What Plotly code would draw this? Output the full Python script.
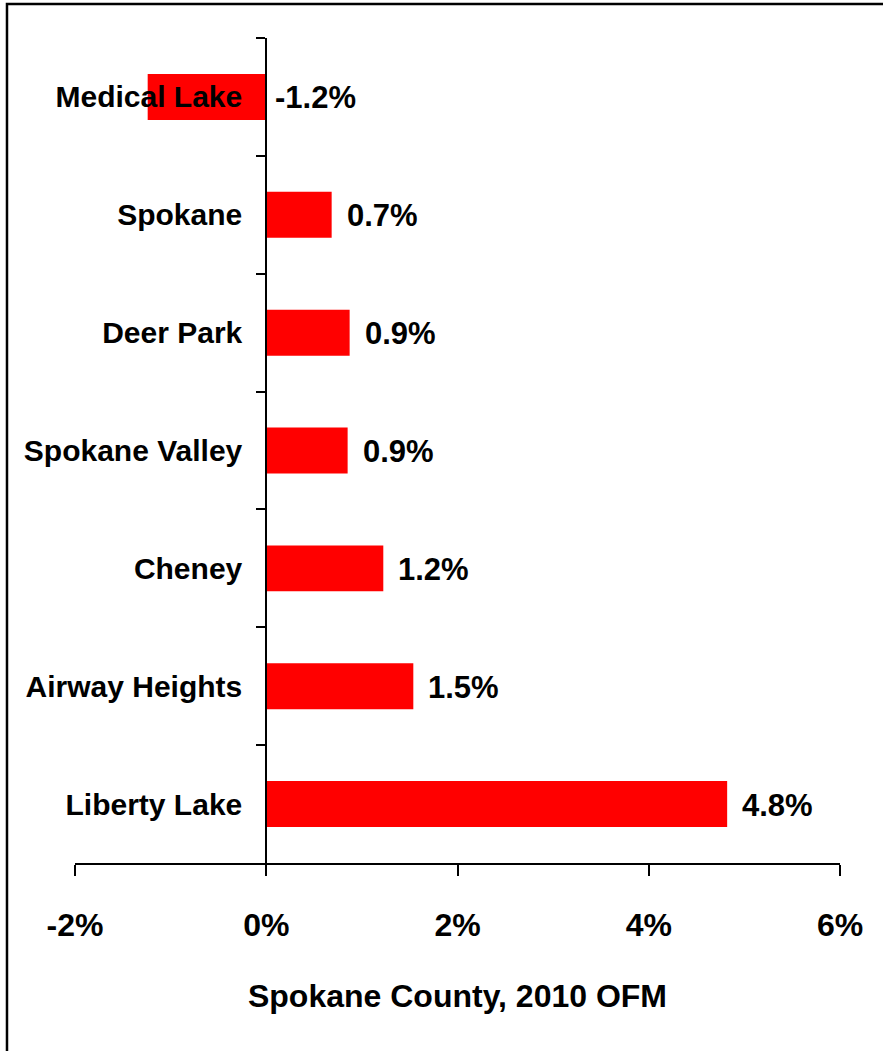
import plotly.graph_objects as go

# Annual population growth by city, listed top to bottom
cities = ["Medical Lake", "Spokane", "Deer Park", "Spokane Valley",
          "Cheney", "Airway Heights", "Liberty Lake"]
growth_pct = [-1.24, 0.684, 0.872, 0.851, 1.224, 1.538, 4.82]

x_ticks = [-2, 0, 2, 4, 6]
x_tick_labels = ["-2%", "0%", "2%", "4%", "6%"]
x_title = "Spokane County, 2010 OFM"

FONT = "Liberation Sans, Arial, sans-serif"
BAR_RED = "#FF0000"


def bold_font(size=31):
    return dict(family=FONT, size=size, color="black", weight="bold")


fig = go.Figure()
fig.add_trace(go.Bar(
    x=growth_pct,
    y=cities,
    orientation="h",
    width=0.39,
    marker=dict(color=BAR_RED, line=dict(width=0)),
    hoverinfo="skip",
))

# Value labels sit just right of each bar end (or of the zero line for negatives)
for city, v in zip(cities, growth_pct):
    fig.add_annotation(
        x=max(v, 0), y=city, xref="x", yref="y",
        text=f"{v:.1f}%",
        showarrow=False, xanchor="left", yanchor="middle",
        xshift=13 if v > 0 else 7, yshift=-1,
        font=bold_font(31),
    )

# Outer frame
fig.add_shape(type="rect", xref="paper", yref="paper",
              x0=-0.0889, x1=1.2, y0=-0.5, y1=1.0412,
              line=dict(color="black", width=2.5), fillcolor="rgba(0,0,0,0)",
              layer="above")

fig.update_layout(
    width=883, height=1051,
    margin=dict(l=75, r=43, t=38, b=188),
    paper_bgcolor="white", plot_bgcolor="white",
    showlegend=False,
    font=bold_font(),
    xaxis=dict(
        range=[-2, 6], tickvals=x_ticks, ticktext=x_tick_labels,
        automargin=False,
        showgrid=False, zeroline=False,
        showline=True, linecolor="black", linewidth=2,
        ticks="outside", ticklen=11, tickwidth=2, tickcolor="black",
        tickfont=bold_font(32),
        ticklabelstandoff=22,
        title=dict(text=x_title, font=bold_font(32), standoff=42),
        fixedrange=True,
    ),
    yaxis=dict(
        type="category", autorange="reversed",
        automargin=False,
        anchor="free", position=0.25,
        showgrid=False, zeroline=False,
        showline=True, linecolor="black", linewidth=2,
        ticks="outside", tickson="boundaries", ticklen=9, tickwidth=2,
        tickcolor="black",
        tickfont=bold_font(30),
        ticklabelstandoff=17,
        layer="above traces",
        fixedrange=True,
    ),
)

fig.write_html("out.html")
